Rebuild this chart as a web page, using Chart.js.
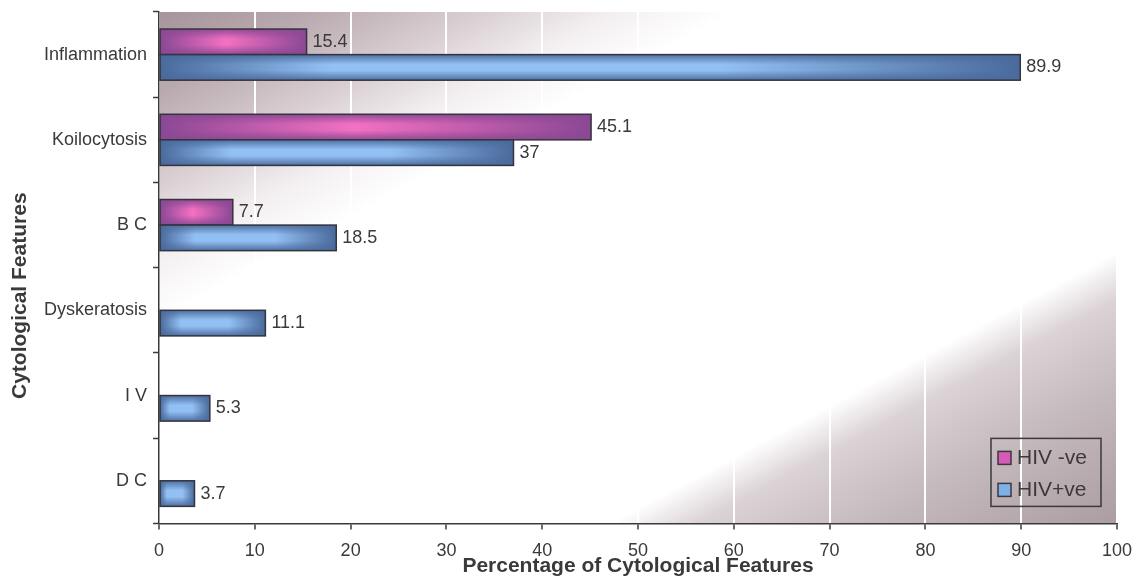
<!DOCTYPE html>
<html>
<head>
<meta charset="utf-8">
<script src="https://cdn.jsdelivr.net/npm/chart.js@4.4.1/dist/chart.umd.min.js"></script>
<style>
  html, body { margin: 0; padding: 0; background: #fff; }
  #wrap { width: 1140px; height: 581px; }
</style>
</head>
<body>
<div id="wrap"><canvas id="featChart"></canvas></div>
<script>
const categories = ["Inflammation", "Koilocytosis", "B C", "Dyskeratosis", "I V", "D C"];
const hivNeg = [15.4, 45.1, 7.7, null, null, null];
const hivPos = [89.9, 37, 18.5, 11.1, 5.3, 3.7];
const seriesNames = ["HIV -ve", "HIV+ve"];
const yTitle = "Cytological Features";
const xTitle = "Percentage of Cytological Features";

const FONT = "'Liberation Sans', Arial, sans-serif";
const TEXT = "#3a3a3a";

// edge colour / glow colour per series
const tones = [
  { edge: "#8a4894", glow: "#f470c2", swatch: "#d85ab8" },
  { edge: "#4a6a9c", glow: "#93c0f4", swatch: "#7fb0ea" },
];

// plot area background: mauve corners, white diagonal band
const bgPlugin = {
  id: "bg",
  beforeDraw(chart) {
    const { ctx, chartArea: a } = chart;
    const w = a.right - a.left, h = a.bottom - a.top;
    // direction (h, w) so the colour bands run parallel to the anti-diagonal
    const k = (2 * w * h) / (w * w + h * h);
    const g = ctx.createLinearGradient(a.left, a.top, a.left + h * k, a.top + w * k);
    g.addColorStop(0, "#a6959b");
    g.addColorStop(0.08, "#b9aaaf");
    g.addColorStop(0.16, "#d6cbcf");
    g.addColorStop(0.24, "#f4f0f1");
    g.addColorStop(0.3, "#ffffff");
    g.addColorStop(0.735, "#ffffff");
    g.addColorStop(0.78, "#dcd3d6");
    g.addColorStop(0.87, "#c4b9bd");
    g.addColorStop(1, "#ab9da2");
    ctx.save();
    ctx.fillStyle = g;
    ctx.fillRect(a.left, a.top, w, h);
    ctx.restore();
  },
};

// shading inside bars + value labels
const barPlugin = {
  id: "barGlow",
  afterDatasetsDraw(chart) {
    const ctx = chart.ctx;
    chart.data.datasets.forEach((ds, di) => {
      const meta = chart.getDatasetMeta(di);
      const t = tones[di];
      meta.data.forEach((bar, i) => {
        const v = ds.data[i];
        if (v == null) return;
        const { x, y, base, height } = bar.getProps(["x", "y", "base", "height"], true);
        const left = Math.min(x, base), right = Math.max(x, base);
        const top = y - height / 2, w = right - left;
        ctx.save();
        ctx.beginPath();
        ctx.rect(left, top, w, height);
        ctx.clip();
        const hg = ctx.createLinearGradient(left, 0, right, 0);
        hg.addColorStop(0, t.edge);
        if (di === 0) {
          hg.addColorStop(0.45, t.glow);
        } else {
          hg.addColorStop(0.2, t.glow);
          hg.addColorStop(0.65, t.glow);
        }
        hg.addColorStop(1, t.edge);
        ctx.fillStyle = hg;
        ctx.fillRect(left, top, w, height);
        const vg = ctx.createLinearGradient(0, top, 0, top + height);
        vg.addColorStop(0, t.edge + "ee");
        vg.addColorStop(0.38, t.edge + "00");
        vg.addColorStop(0.62, t.edge + "00");
        vg.addColorStop(1, t.edge + "ee");
        ctx.fillStyle = vg;
        ctx.fillRect(left, top, w, height);
        ctx.restore();

        ctx.save();
        ctx.strokeStyle = "#34343c";
        ctx.lineWidth = 1.5;
        ctx.strokeRect(left, top, w, height);
        ctx.fillStyle = TEXT;
        ctx.font = "18px " + FONT;
        ctx.textBaseline = "middle";
        ctx.fillText(String(v), right + 6, y);
        ctx.restore();
      });
    });
  },
};

// boxed legend in the lower right corner of the plot, plus both axis titles
const extrasPlugin = {
  id: "extras",
  afterDraw(chart) {
    const { ctx, chartArea: a } = chart;
    const bx = a.right - 126, by = a.bottom - 85, bw = 110, bh = 68;
    ctx.save();
    ctx.strokeStyle = "#3a3a3a";
    ctx.lineWidth = 1.5;
    ctx.strokeRect(bx, by, bw, bh);
    ctx.font = "21px " + FONT;
    ctx.textBaseline = "middle";
    seriesNames.forEach((name, k) => {
      const cy = by + 19 + k * 32;
      ctx.fillStyle = tones[k].swatch;
      ctx.fillRect(bx + 7, cy - 6, 13, 13);
      ctx.strokeStyle = "#3a3a3a";
      ctx.strokeRect(bx + 7, cy - 6, 13, 13);
      ctx.fillStyle = TEXT;
      ctx.fillText(name, bx + 26, cy + 1);
    });
    ctx.restore();

    ctx.save();
    ctx.font = "bold 21px " + FONT;
    ctx.fillStyle = TEXT;
    ctx.textAlign = "center";
    ctx.textBaseline = "middle";
    ctx.fillText(xTitle, (a.left + a.right) / 2, a.bottom + 43);
    ctx.translate(20, (a.top + a.bottom) / 2 + 28);
    ctx.rotate(-Math.PI / 2);
    ctx.fillText(yTitle, 0, 0);
    ctx.restore();
  },
};

// let the layout padding alone decide the plot edges
const noEdgePad = (scale) => {
  scale.paddingTop = 0;
  scale.paddingBottom = 0;
  scale.paddingLeft = 0;
  scale.paddingRight = 0;
};

new Chart(document.getElementById("featChart"), {
  type: "bar",
  data: {
    labels: categories,
    datasets: [
      {
        label: seriesNames[0],
        data: hivNeg,
        backgroundColor: tones[0].edge,
        borderColor: "#34343c",
        borderWidth: 1.5,
        categoryPercentage: 0.6,
        barPercentage: 1.0,
      },
      {
        label: seriesNames[1],
        data: hivPos,
        backgroundColor: tones[1].edge,
        borderColor: "#34343c",
        borderWidth: 1.5,
        categoryPercentage: 0.6,
        barPercentage: 1.0,
      },
    ],
  },
  options: {
    indexAxis: "y",
    responsive: true,
    maintainAspectRatio: false,
    animation: false,
    layout: { padding: { left: 38, right: 23, top: 12, bottom: 8 } },
    plugins: {
      legend: { display: false },
      tooltip: { enabled: false },
    },
    scales: {
      x: {
        min: 0,
        max: 100,
        afterFit: noEdgePad,
        ticks: { stepSize: 10, color: TEXT, font: { family: FONT, size: 18 }, padding: 11 },
        grid: { color: "#ffffff", lineWidth: 2, tickColor: "#3a3a3a", tickLength: 6, tickWidth: 1.5 },
        border: { color: "#3a3a3a", width: 1.5 },
      },
      y: {
        afterFit: noEdgePad,
        ticks: { color: TEXT, font: { family: FONT, size: 18 }, padding: 6 },
        grid: { drawOnChartArea: false, tickColor: "#3a3a3a", tickLength: 6, tickWidth: 1.5 },
        border: { color: "#3a3a3a", width: 1.5 },
      },
    },
  },
  plugins: [bgPlugin, barPlugin, extrasPlugin],
});
</script>
</body>
</html>
